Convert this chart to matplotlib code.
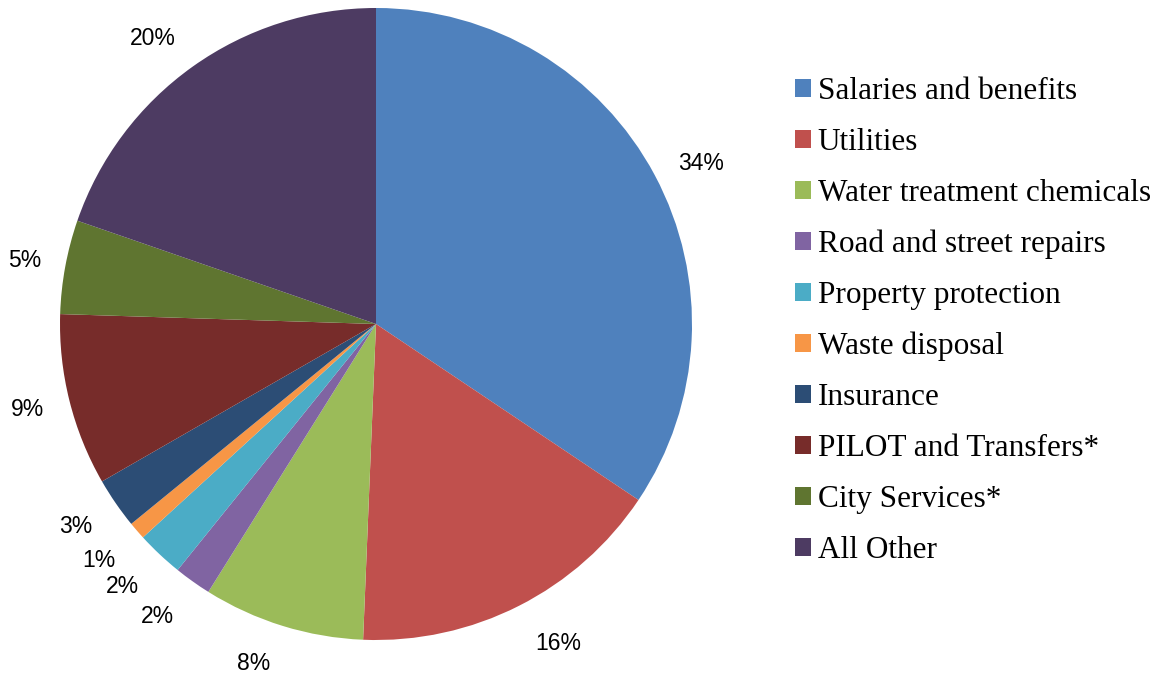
import matplotlib
matplotlib.use("Agg")
import matplotlib.pyplot as plt
from matplotlib.patches import Patch

# Data (shares, percent)
categories = [
    "Salaries and benefits",
    "Utilities",
    "Water treatment chemicals",
    "Road and street repairs",
    "Property protection",
    "Waste disposal",
    "Insurance",
    "PILOT and Transfers*",
    "City Services*",
    "All Other",
]
shares = [34.4, 16.25, 8.25, 1.9, 2.4, 0.9, 2.6, 8.8, 4.8, 19.7]
colors = ["#4F81BD", "#C0504D", "#9BBB59", "#8064A2", "#4BACC6",
          "#F79646", "#2C4D75", "#772C2A", "#5F7530", "#4D3B62"]

W, H = 1166, 673
fig = plt.figure(figsize=(W / 100, H / 100), dpi=100)

# pie centred at (376, 324) px, radius 316 px
cx, cy, r = 376, 324, 316
ax = fig.add_axes([(cx - r) / W, (H - cy - r) / H, 2 * r / W, 2 * r / H])
wedges, texts, autotexts = ax.pie(
    shares, colors=colors, startangle=90, counterclock=False,
    autopct="%.0f%%", pctdistance=1.145, radius=1.0,
    wedgeprops=dict(linewidth=0),
    textprops=dict(fontsize=16.5, family="Liberation Sans", color="#000000"),
)
ax.set_xlim(-1, 1)
ax.set_ylim(-1, 1)
ax.set_aspect("equal")

# Excel "best fit" label placement: (x centre, baseline) in pixels
label_px = [(701, 170), (558, 650), (254, 670), (157, 623), (122, 593),
            (99, 567), (76, 533), (27, 416), (25, 267), (153, 45)]
for t, (px, py) in zip(autotexts, label_px):
    t.set_position(((px - cx) / r, (cy - py) / r))
    t.set_ha("center")
    t.set_va("baseline")

handles = [Patch(facecolor=c, edgecolor="none") for c in colors]
fig.legend(
    handles, categories, loc="center left",
    bbox_to_anchor=(795 / W, 1 - 321 / H),
    frameon=False,
    prop=dict(family="Liberation Serif", size=22.5),
    handlelength=0.51, handleheight=0.51, handletextpad=0.22,
    labelspacing=0.70, borderaxespad=0, borderpad=0,
)

fig.savefig("out.png", dpi=100)
